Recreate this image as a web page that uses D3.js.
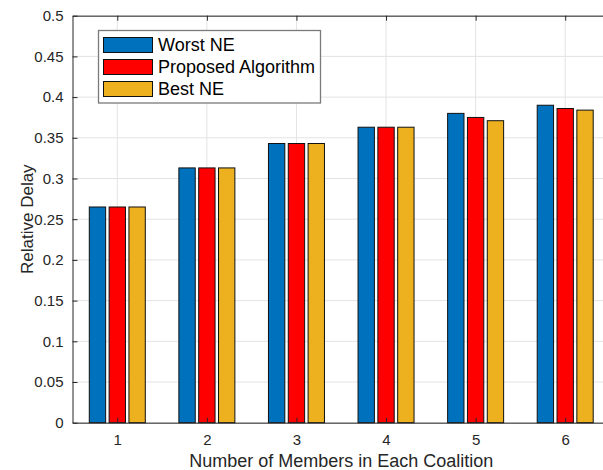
<!DOCTYPE html>
<html>
<head>
<meta charset="utf-8">
<script src="https://cdn.jsdelivr.net/npm/d3@7"></script>
<style>
  html, body { margin: 0; padding: 0; background: #fff; }
  svg { display: block; font-family: "Liberation Sans", Arial, Helvetica, sans-serif; }
</style>
</head>
<body>
<svg id="chart" width="603" height="470"></svg>
<script>
// Coalition sizes on the x axis
const categories = [1, 2, 3, 4, 5, 6];

// Relative delay for each scheme
const seriesNames = ["Worst NE", "Proposed Algorithm", "Best NE"];
const worstNE   = [0.265, 0.313, 0.343, 0.363, 0.380, 0.390];
const proposed  = [0.265, 0.313, 0.343, 0.363, 0.375, 0.386];
const bestNE    = [0.265, 0.313, 0.343, 0.363, 0.371, 0.384];
const seriesColors = ["#0072BD", "#FF0000", "#EDB120"];

const yTicks = [0, 0.05, 0.1, 0.15, 0.2, 0.25, 0.3, 0.35, 0.4, 0.45, 0.5];
const yTickLabels = ["0", "0.05", "0.1", "0.15", "0.2", "0.25", "0.3", "0.35", "0.4", "0.45", "0.5"];

const seriesValues = [worstNE, proposed, bestNE];

const svg = d3.select("#chart");
const axisColor = "#262626";
const gridColor = "#e3e3e3";

// Plot area (the right edge runs slightly past the canvas)
const plotLeft = 72.5, plotRight = 610, plotTop = 15.7, plotBottom = 422.7;

const x = d3.scaleLinear().domain([0.5, 6.5]).range([plotLeft, plotRight]);
const y = d3.scaleLinear().domain([0, 0.5]).range([plotBottom, plotTop]);
const inner = d3.scaleBand().domain(seriesNames).range([-28, 28]).paddingInner(0.175);

// Grid
const grid = svg.append("g");
grid.selectAll("line.h").data(yTicks).join("line")
  .attr("x1", plotLeft).attr("x2", plotRight)
  .attr("y1", d => y(d)).attr("y2", d => y(d))
  .attr("stroke", gridColor).attr("stroke-width", 1);
grid.selectAll("line.v").data(categories).join("line")
  .attr("y1", plotTop).attr("y2", plotBottom)
  .attr("x1", d => x(d)).attr("x2", d => x(d))
  .attr("stroke", gridColor).attr("stroke-width", 1);

// Bars
const rows = [];
categories.forEach((c, i) => {
  seriesNames.forEach((s, j) => rows.push({ c, s, j, v: seriesValues[j][i] }));
});
svg.append("g").selectAll("rect").data(rows).join("rect")
  .attr("x", d => x(d.c) + inner(d.s))
  .attr("width", inner.bandwidth())
  .attr("y", d => y(d.v))
  .attr("height", d => y(0) - y(d.v))
  .attr("fill", d => seriesColors[d.j])
  .attr("stroke", "#111")
  .attr("stroke-width", 1);

// Axes (ticks point inward)
const fmt = d => yTickLabels[yTicks.indexOf(d)];
const yAxis = d3.axisLeft(y).tickValues(yTicks).tickFormat(fmt).tickSizeInner(-5).tickSizeOuter(0).tickPadding(9);
const gy = svg.append("g").attr("transform", `translate(${plotLeft},0)`).call(yAxis);
gy.selectAll("text").attr("font-size", 15).attr("fill", axisColor).attr("font-family", "Liberation Sans, Arial, sans-serif");

const xAxis = d3.axisBottom(x).tickValues(categories).tickFormat(d3.format("d")).tickSizeInner(-5).tickSizeOuter(0).tickPadding(12);
const gx = svg.append("g").attr("transform", `translate(0,${plotBottom})`).call(xAxis);
gx.selectAll("text").attr("font-size", 15).attr("fill", axisColor).attr("font-family", "Liberation Sans, Arial, sans-serif");

const xTop = d3.axisTop(x).tickValues(categories).tickFormat("").tickSizeInner(-5).tickSizeOuter(0);
const gt = svg.append("g").attr("transform", `translate(0,${plotTop})`).call(xTop);

[gx, gy, gt].forEach(g => {
  g.select(".domain").attr("stroke", axisColor).attr("stroke-width", 1);
  g.selectAll(".tick line").attr("stroke", axisColor);
});

// Axis titles
svg.append("text")
  .attr("x", (plotLeft + plotRight) / 2).attr("y", 466.5)
  .attr("text-anchor", "middle")
  .attr("font-size", 18).attr("fill", axisColor)
  .text("Number of Members in Each Coalition");

svg.append("text")
  .attr("transform", `translate(33,${(plotTop + plotBottom) / 2}) rotate(-90)`)
  .attr("text-anchor", "middle")
  .attr("font-size", 17).attr("fill", axisColor)
  .text("Relative Delay");

// Legend
const lg = svg.append("g");
lg.append("rect")
  .attr("x", 98.5).attr("y", 30.5).attr("width", 222).attr("height", 72.5)
  .attr("fill", "#fff").attr("stroke", "#7a7a7a").attr("stroke-width", 1.3);
const items = lg.selectAll("g.item").data(seriesNames).join("g")
  .attr("transform", (d, i) => `translate(0,${45 + i * 22})`);
items.append("rect")
  .attr("x", 103.5).attr("y", -7.5).attr("width", 49).attr("height", 15)
  .attr("fill", (d, i) => seriesColors[i]).attr("stroke", "#111").attr("stroke-width", 1);
items.append("text")
  .attr("x", 158).attr("y", 6.3)
  .attr("font-size", 18).attr("fill", "#000")
  .text(d => d);
</script>
</body>
</html>
